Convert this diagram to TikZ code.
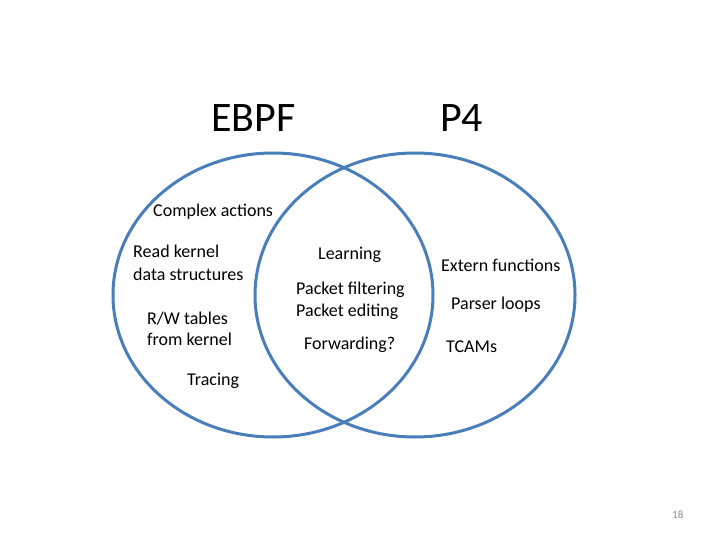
\documentclass[tikz,border=0pt]{standalone}
\usepackage{fontspec}
\setmainfont{Carlito}
\usepackage{xcolor}
\usepackage{tikz}
\definecolor{vennblue}{HTML}{4A7EBB}
\definecolor{pagegray}{HTML}{8C8C8C}
\tikzset{
  set/.style={draw=vennblue,line width=3pt},
  title/.style={font=\fontsize{42}{50}\selectfont,anchor=base west,inner sep=0pt},
  item/.style={font=\fontsize{18}{22}\selectfont,anchor=base west,inner sep=0pt},
  pagenum/.style={font=\fontsize{11}{13}\selectfont,text=pagegray,anchor=base west,inner sep=0pt}
}

\begin{document}
\begin{tikzpicture}[x=1pt,y=-1pt]
  \useasboundingbox (0,0) rectangle (720,540);
  \coordinate (ebpfc) at (273,295);
  \coordinate (p4c) at (415,295);
  \draw[set] (ebpfc) ellipse [x radius=160,y radius=142];
  \draw[set] (p4c) ellipse [x radius=160,y radius=142];
  \node[title] (ebpf) at (211,132) {EBPF};
  \node[title] (p4) at (440,132) {P4};
  \node[item] (complex) at (153,217) {Complex actions};
  \node[item] (read1) at (133,258) {Read kernel};
  \node[item] (read2) at (133,280) {data structures};
  \node[item] (rw1) at (147,324) {R/W tables};
  \node[item] (rw2) at (147,345) {from kernel};
  \node[item] (tracing) at (187,385) {Tracing};
  \node[item] (learning) at (318,259) {Learning};
  \node[item] (filter) at (296,294) {Packet filtering};
  \node[item] (edit) at (296,316) {Packet editing};
  \node[item] (fwd) at (304,349) {Forwarding?};
  \node[item] (extern) at (441,271) {Extern functions};
  \node[item] (parser) at (451,309) {Parser loops};
  \node[item] (tcam) at (446,352) {TCAMs};
  \node[pagenum] (page) at (672,518) {18};
\end{tikzpicture}
\end{document}
